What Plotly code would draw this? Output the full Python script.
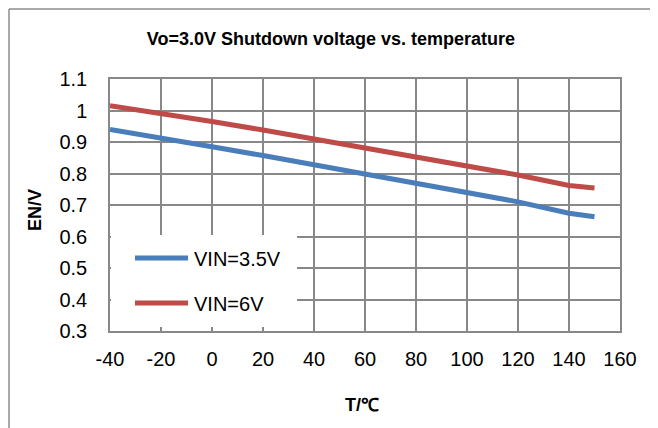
import plotly.graph_objects as go

temps = [-40, -20, 0, 20, 40, 60, 80, 100, 120, 140, 150]
vin_35 = [0.940, 0.914, 0.885, 0.857, 0.827, 0.800, 0.771, 0.741, 0.710, 0.674, 0.663]
vin_6 = [1.015, 0.991, 0.965, 0.938, 0.910, 0.880, 0.851, 0.824, 0.795, 0.762, 0.754]
series_names = ["VIN=3.5V", "VIN=6V"]
series_colors = ["#4A7EBB", "#BE4B48"]

x_ticks = [-40, -20, 0, 20, 40, 60, 80, 100, 120, 140, 160]
x_labels = ["-40", "-20", "0", "20", "40", "60", "80", "100", "120", "140", "160"]
y_ticks = [0.3, 0.4, 0.5, 0.6, 0.7, 0.8, 0.9, 1.0, 1.1]
y_labels = ["0.3", "0.4", "0.5", "0.6", "0.7", "0.8", "0.9", "1", "1.1"]

fig = go.Figure()
for ys, nm, col in zip([vin_35, vin_6], series_names, series_colors):
    fig.add_trace(go.Scatter(x=temps, y=ys, mode="lines", name=nm,
                             line=dict(color=col, width=5), showlegend=False))

grid = "#888888"
FONT = "Liberation Sans, Arial, sans-serif"
OFF = 8  # page body margin
W, H = 658, 428
# plot area in page pixels: x 110..620, y 79..331
L = 110 - OFF
T = 79 - OFF
R = W - (620 - OFF)
B = H - (331 - OFF)
pw, ph = W - L - R, H - T - B


def px(x):
    return (x - OFF - L) / pw


def py(y):
    return (H - B - (y - OFF)) / ph


shapes = [
    # outer chart border (left and top visible)
    dict(type="line", xref="paper", yref="paper", x0=px(9), x1=px(700), y0=py(9), y1=py(9),
         line=dict(color="#8C8C8C", width=1.5)),
    dict(type="line", xref="paper", yref="paper", x0=px(9), x1=px(9), y0=py(9), y1=py(460),
         line=dict(color="#8C8C8C", width=1.5)),
    # legend box
    dict(type="rect", xref="paper", yref="paper", x0=px(111), x1=px(297), y0=py(235), y1=py(327),
         fillcolor="white", line=dict(width=0), layer="above"),
]
annotations = []
for i, (nm, col) in enumerate(zip(series_names, series_colors)):
    yy = 258 + i * 45
    shapes.append(dict(type="line", xref="paper", yref="paper", x0=px(135), x1=px(188),
                       y0=py(yy), y1=py(yy), line=dict(color=col, width=5), layer="above"))
    annotations.append(dict(text=nm, xref="paper", yref="paper", x=px(192), y=py(yy + 1),
                            xanchor="left", yanchor="middle", showarrow=False,
                            font=dict(size=20, family=FONT)))

annotations.append(dict(text="<b>T/℃</b>", xref="paper", yref="paper", x=px(362), y=py(405),
                        xanchor="center", yanchor="middle", showarrow=False,
                        font=dict(size=18, family=FONT)))
annotations.append(dict(text="<b>EN/V</b>", xref="paper", yref="paper", x=px(35), y=py(210),
                        xanchor="center", yanchor="middle", showarrow=False, textangle=-90,
                        font=dict(size=18, family=FONT)))

fig.update_layout(
    width=W, height=H,
    margin=dict(l=L, r=R, t=T, b=B, autoexpand=False),
    paper_bgcolor="white", plot_bgcolor="white",
    font=dict(family=FONT, size=20, color="black"),
    title=dict(text="<b>Vo=3.0V Shutdown voltage vs. temperature</b>",
               x=(331 - OFF) / W, xanchor="center", y=1 - (39 - OFF) / H, yanchor="middle",
               font=dict(size=18, family=FONT)),
    showlegend=False,
    xaxis=dict(range=[-40, 160], tickvals=x_ticks, ticktext=x_labels, showgrid=True, gridcolor=grid,
               gridwidth=1.5, showline=True, linecolor=grid, linewidth=1.5, mirror=True,
               zeroline=False, ticks="", automargin=False, ticklabelstandoff=9),
    yaxis=dict(range=[0.3, 1.1], tickvals=y_ticks, ticktext=y_labels, showgrid=True,
               gridcolor=grid, gridwidth=1.5, showline=True, linecolor=grid, linewidth=1.5,
               mirror=True, zeroline=False, ticks="", automargin=False, ticklabelstandoff=17),
    shapes=shapes,
    annotations=annotations,
)
fig.write_html("out.html")
